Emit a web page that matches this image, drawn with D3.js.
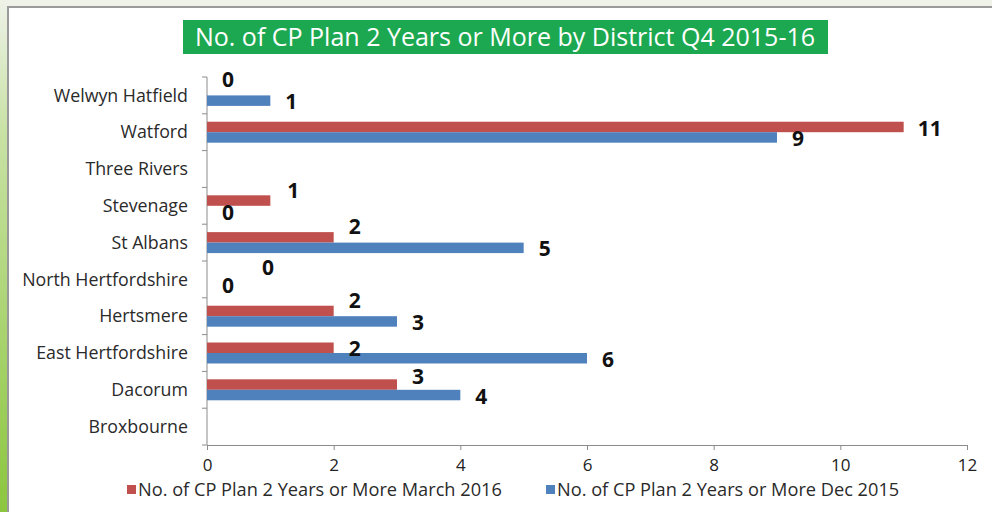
<!DOCTYPE html>
<html>
<head>
<meta charset="utf-8">
<script src="https://cdn.jsdelivr.net/npm/d3@7"></script>
<style>
  html, body { margin:0; padding:0; background:#fff; }
  #canvas { width:992px; height:512px; }
  text { font-family:"Open Sans", sans-serif; }
</style>
</head>
<body>
<div id="canvas" class="canvas"></div>
<script>
// districts, top to bottom as in the chart
var districts = ['Welwyn Hatfield','Watford','Three Rivers','Stevenage','St Albans',
                 'North Hertfordshire','Hertsmere','East Hertfordshire','Dacorum','Broxbourne'];

// null = no value shown for that district
var march2016 = [0, 11, null, 1, 2, 0, 2, 2, 3, null];
var dec2015   = [1, 9, null, 0, 5, 0, 3, 6, 4, null];

var seriesNames = ['No. of CP Plan 2 Years or More March 2016',
                   'No. of CP Plan 2 Years or More Dec 2015'];
var xTicks = [0, 2, 4, 6, 8, 10, 12];
var titleText = 'No. of CP Plan 2 Years or More by District Q4 2015-16';

var colors = ['#c0504d', '#4f81bd'];

// data labels were dragged around by hand in the original, nudge a few
var labelNudge = {
    'Watford|0': {dx:14, dy:1},
    'East Hertfordshire|0': {dx:15, dy:1},
    'North Hertfordshire|0': {dx:55, dy:-7},
    'Dacorum|0': {dx:15, dy:-8},
    'Stevenage|0': {dx:17, dy:-10}
};

var W = 992, H = 512;

var svg = d3.select('#canvas').append('svg')
    .attr('width', W).attr('height', H);

// background frame: light strip, green left edge
var defs = svg.append('defs');
var grad = defs.append('linearGradient').attr('id','edge')
    .attr('x1',0).attr('y1',0).attr('x2',0).attr('y2',1);
grad.append('stop').attr('offset','0%').attr('stop-color','#eef2e8');
grad.append('stop').attr('offset','25%').attr('stop-color','#c9e2a6');
grad.append('stop').attr('offset','100%').attr('stop-color','#8cc63f');

svg.append('rect').attr('width',W).attr('height',H).attr('fill','#eef2e8');
svg.append('rect').attr('width',7).attr('height',H).attr('fill','url(#edge)');
svg.append('rect').attr('x',7).attr('y',6).attr('width',W-7).attr('height',H-6).attr('fill','#9a9a9a');
svg.append('rect').attr('x',9).attr('y',8).attr('width',W-9).attr('height',H-8).attr('fill','#ffffff');

// title
var title = svg.append('g');
title.append('rect').attr('x',183).attr('y',20).attr('width',645).attr('height',34).attr('fill','#1ca850');
title.append('text').attr('x',505).attr('y',46).attr('text-anchor','middle')
    .attr('fill','#ffffff').style('font-size','25px').text(titleText);

// scales
var x = d3.scaleLinear().domain([0,12]).range([207,967]);
var y = d3.scaleBand().domain(districts).range([77,445])
    .paddingInner(0.43).paddingOuter(0.215);
var ySub = d3.scaleBand().domain([0,1]).range([0, y.bandwidth()]);

var plot = svg.append('g').attr('class','plot');

// axes
var xAxis = d3.axisBottom(x).tickValues(xTicks).tickSize(5).tickPadding(9).tickFormat(d3.format('d'));
var gx = plot.append('g').attr('transform','translate(0,445)').call(xAxis);
gx.select('.domain').attr('stroke','#8c8c8c');
gx.selectAll('.tick line').attr('stroke','#8c8c8c');
gx.selectAll('.tick text').attr('fill','#222').style('font-size','17px')
    .style('font-family','"Open Sans", sans-serif');

var gy = plot.append('g').attr('transform','translate(207,0)');
gy.append('line').attr('x1',0).attr('x2',0).attr('y1',y.range()[0]).attr('y2',445).attr('stroke','#8c8c8c');
gy.selectAll('.tk').data(d3.range(districts.length + 1)).enter().append('line')
    .attr('class','tk')
    .attr('x1',-5).attr('x2',0)
    .attr('y1',function(i){ return y.range()[0] + i*y.step(); })
    .attr('y2',function(i){ return y.range()[0] + i*y.step(); })
    .attr('stroke','#8c8c8c');
gy.selectAll('.cat').data(districts).enter().append('text')
    .attr('class','cat')
    .attr('x',-19)
    .attr('y',function(d){ return y(d) + y.bandwidth()/2; })
    .attr('dy','0.35em').attr('text-anchor','end')
    .attr('fill','#2a2a2a').style('font-size','17.8px')
    .text(function(d){ return d; });

// bars
var rows = [];
districts.forEach(function(d,i){
    [march2016[i], dec2015[i]].forEach(function(v,s){
        if (v !== null) rows.push({district:d, series:s, value:v});
    });
});

plot.selectAll('.bar').data(rows).enter().append('rect')
    .attr('class','bar')
    .attr('x', x(0))
    .attr('y', function(d){ return y(d.district) + ySub(d.series); })
    .attr('width', function(d){ return x(d.value) - x(0); })
    .attr('height', ySub.bandwidth())
    .attr('fill', function(d){ return colors[d.series]; });

// value labels
plot.selectAll('.val').data(rows).enter().append('text')
    .attr('class','val')
    .attr('x', function(d){
        var n = labelNudge[d.district+'|'+d.series];
        return x(d.value) + (n ? n.dx : 15);
    })
    .attr('y', function(d){
        var n = labelNudge[d.district+'|'+d.series];
        var dy = n ? n.dy : (d.series === 0 ? -11 : 1);
        return y(d.district) + ySub(d.series) + ySub.bandwidth()/2 + dy;
    })
    .attr('dy','0.36em')
    .attr('fill','#111').style('font-size','21px').style('font-weight','bold')
    .text(function(d){ return d.value; });

// legend
var legend = svg.append('g').selectAll('.lg').data(seriesNames).enter().append('g')
    .attr('transform', function(d,i){ return 'translate(' + (i ? 546 : 127) + ',490)'; });
legend.append('rect').attr('x',0).attr('y',-5).attr('width',9).attr('height',9)
    .attr('fill', function(d,i){ return colors[i]; });
legend.append('text').attr('x',11).attr('dy','0.35em')
    .attr('fill','#2a2a2a').style('font-size','18.2px')
    .text(function(d){ return d; });
</script>
</body>
</html>
